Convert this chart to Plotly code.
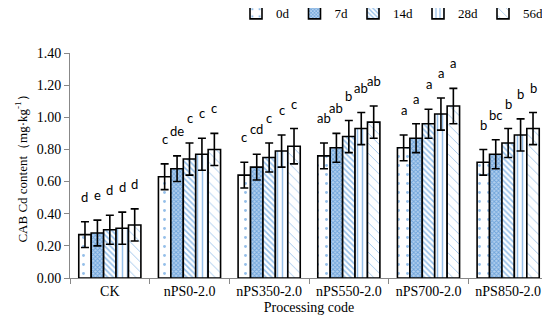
import plotly.graph_objects as go

categories = ["CK", "nPS0-2.0", "nPS350-2.0", "nPS550-2.0", "nPS700-2.0", "nPS850-2.0"]
series_names = ["0d", "7d", "14d", "28d", "56d"]

values = {
    "0d":  [0.27, 0.63, 0.64, 0.76, 0.81, 0.72],
    "7d":  [0.28, 0.68, 0.69, 0.81, 0.87, 0.77],
    "14d": [0.30, 0.74, 0.75, 0.88, 0.96, 0.84],
    "28d": [0.31, 0.77, 0.79, 0.93, 1.02, 0.89],
    "56d": [0.33, 0.80, 0.82, 0.97, 1.07, 0.93],
}
errors = {
    "0d":  [0.08, 0.08, 0.08, 0.08, 0.08, 0.08],
    "7d":  [0.08, 0.08, 0.08, 0.09, 0.09, 0.09],
    "14d": [0.09, 0.10, 0.09, 0.10, 0.09, 0.09],
    "28d": [0.10, 0.10, 0.10, 0.10, 0.10, 0.10],
    "56d": [0.10, 0.10, 0.11, 0.10, 0.11, 0.10],
}
letters = {
    "0d":  ["d", "c", "c", "ab", "a", "b"],
    "7d":  ["e", "de", "cd", "ab", "a", "bc"],
    "14d": ["d", "c", "c", "b", "a", "b"],
    "28d": ["d", "c", "c", "ab", "a", "b"],
    "56d": ["d", "c", "c", "ab", "a", "b"],
}
y_ticks = [0.0, 0.2, 0.4, 0.6, 0.8, 1.0, 1.2, 1.4]

BLUE = "#2b7fd4"
SERIF = "Liberation Serif"
patterns = {
    "0d":  dict(shape=".", fgcolor=BLUE, bgcolor="white", size=9, solidity=0.08),
    "7d":  dict(shape="x", fgcolor="#2a78c8", bgcolor="#b3d0ee", size=3, solidity=0.5),
    "14d": dict(shape="\\", fgcolor=BLUE, bgcolor="white", size=4, solidity=0.4),
    "28d": dict(shape="|", fgcolor=BLUE, bgcolor="white", size=5, solidity=0.3),
    "56d": dict(shape="\\", fgcolor=BLUE, bgcolor="white", size=7, solidity=0.12),
}

BARGAP = 0.22
fig = go.Figure()
for name in series_names:
    fig.add_trace(go.Bar(
        name=name, x=categories, y=values[name],
        marker=dict(color="white", line=dict(color="black", width=1.6), pattern=patterns[name]),
        error_y=dict(type="data", array=errors[name], visible=True,
                     color="black", thickness=1.6, width=4),
    ))

n = len(series_names)
bw = (1 - BARGAP) / n
for si, name in enumerate(series_names):
    for gi, cat in enumerate(categories):
        fig.add_annotation(
            x=gi + (si - (n - 1) / 2) * bw,
            y=values[name][gi] + errors[name][gi] + 0.155,
            text=letters[name][gi], showarrow=False,
            xanchor="center", yanchor="middle",
            font=dict(family="Lato", size=13, color="black"),
        )

fig.update_layout(
    width=550, height=330,
    margin=dict(l=62, r=10, t=45, b=60, autoexpand=False),
    barmode="group", bargap=BARGAP, bargroupgap=0,
    plot_bgcolor="white", paper_bgcolor="white",
    font=dict(family=SERIF, size=14, color="black"),
    legend=dict(orientation="h", x=1.0, xanchor="right", y=1.245, yanchor="top",
                font=dict(family=SERIF, size=13), itemwidth=30,
                tracegroupgap=0, bgcolor="rgba(0,0,0,0)"),
    showlegend=True,
)
fig.update_xaxes(
    showline=True, linecolor="#888", linewidth=1,
    ticks="outside", tickson="boundaries", ticklen=5, tickcolor="#888",
    tickfont=dict(family=SERIF, size=14, color="black"),
    title=dict(text="Processing code", font=dict(family=SERIF, size=14), standoff=4),
)
fig.update_yaxes(
    range=[0, 1.4], tickvals=y_ticks, tickformat=".2f",
    showline=True, linecolor="#888", linewidth=1,
    ticks="outside", ticklen=5, tickcolor="#888", showgrid=False, zeroline=False,
    tickfont=dict(family=SERIF, size=14, color="black"),
    title=dict(text="CAB Cd content（mg·kg<sup>-1</sup>）", font=dict(family=SERIF, size=13), standoff=6),
)
fig.write_html("out.html")
